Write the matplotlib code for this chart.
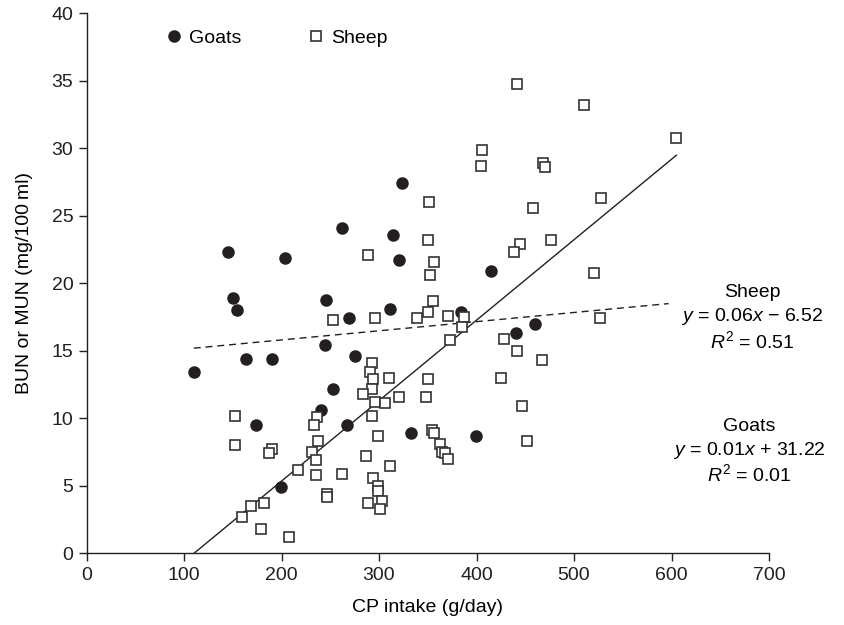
import numpy as np
import matplotlib
matplotlib.use("Agg")
import matplotlib.pyplot as plt

plt.rcParams['font.family'] = ['Liberation Sans', 'DejaVu Sans']
plt.rcParams['mathtext.fontset'] = 'custom'
plt.rcParams['mathtext.rm'] = 'Liberation Sans'
plt.rcParams['mathtext.it'] = 'Liberation Sans:italic'

# goats (filled circles)
goat_x = [324, 262, 314, 145, 204, 320, 150, 154, 246, 311, 269, 384,
          245, 164, 190, 275, 110, 253, 240, 174, 267, 333, 399, 199,
          415, 460, 440]
goat_y = [27.4, 24.1, 23.6, 22.3, 21.9, 21.7, 18.9, 18.0, 18.8, 18.1, 17.4, 17.9,
          15.4, 14.4, 14.4, 14.6, 13.4, 12.2, 10.6, 9.5, 9.5, 8.9, 8.7, 4.9,
          20.9, 17.0, 16.3]

# sheep (open squares)
sheep_x = [351, 350, 289, 356, 352, 355, 350, 339, 253, 296, 371, 387,
           385, 373, 293, 291, 294, 310, 350, 293, 284, 320, 348, 296,
           306, 293, 152, 236, 233, 354, 356, 363, 365, 368, 371, 299,
           237, 152, 190, 187, 231, 287, 235, 311, 217, 262, 235, 294,
           299, 299, 303, 289, 301, 247, 247, 182, 169, 159, 179, 208,
           441, 510, 605, 406, 405, 468, 470, 528, 458, 476, 445, 438,
           520, 527, 428, 441, 467, 425, 447, 452]
sheep_y = [26.0, 23.2, 22.1, 21.6, 20.6, 18.7, 17.9, 17.4, 17.3, 17.4, 17.6, 17.5,
           16.8, 15.8, 14.1, 13.4, 12.9, 13.0, 12.9, 12.2, 11.8, 11.6, 11.6, 11.2,
           11.1, 10.2, 10.2, 10.1, 9.5, 9.1, 8.9, 8.1, 7.5, 7.4, 7.0, 8.7,
           8.3, 8.0, 7.7, 7.4, 7.5, 7.2, 6.9, 6.5, 6.2, 5.9, 5.8, 5.6,
           5.0, 4.6, 3.9, 3.7, 3.3, 4.4, 4.2, 3.7, 3.5, 2.7, 1.8, 1.2,
           34.8, 33.2, 30.8, 29.9, 28.7, 28.9, 28.6, 26.3, 25.6, 23.2, 22.9, 22.3,
           20.8, 17.4, 15.9, 15.0, 14.3, 13.0, 10.9, 8.3]

# fitted lines as drawn
solid_slope, solid_icpt, solid_range = 0.0596, -6.57, (110, 605)
dash_slope, dash_icpt, dash_range = 0.00678, 14.45, (110, 597)

xticks = [0, 100, 200, 300, 400, 500, 600, 700]
yticks = [0, 5, 10, 15, 20, 25, 30, 35, 40]

fig = plt.figure(figsize=(8.45, 6.25), dpi=100)
ax = fig.add_axes([0.1024, 0.1147, 0.8077, 0.864])

ax.plot(goat_x, goat_y, 'o', color='#231f20', markersize=8, linestyle='none', label='Goats', zorder=3)
ax.plot(sheep_x, sheep_y, 's', markerfacecolor='white', markeredgecolor='#333333',
        markeredgewidth=1.2, markersize=7.5, linestyle='none', label='Sheep', zorder=3)

sx = np.array(solid_range)
ax.plot(sx, solid_slope * sx + solid_icpt, color='#231f20', lw=1.0, zorder=2)
dx = np.array(dash_range)
ax.plot(dx, dash_slope * dx + dash_icpt, color='#231f20', lw=1.0, ls=(0, (5, 3.5)), zorder=2)

ax.text(683, 19.3, 'Sheep', ha='center', va='center', fontsize=14)
ax.text(683, 17.55, '$y$ = 0.06$x$ \u2212 6.52', ha='center', va='center', fontsize=14)
ax.text(683, 15.7, '$R^{\\mathrm{2}}$ = 0.51', ha='center', va='center', fontsize=14)
ax.text(680, 9.4, 'Goats', ha='center', va='center', fontsize=14)
ax.text(680, 7.6, '$y$ = 0.01$x$ + 31.22', ha='center', va='center', fontsize=14)
ax.text(680, 5.9, '$R^{\\mathrm{2}}$ = 0.01', ha='center', va='center', fontsize=14)

ax.set_xlim(0, 700)
ax.set_ylim(0, 40)
ax.set_xticks(xticks)
ax.set_yticks(yticks)
ax.tick_params(direction='out', length=6, width=1, labelsize=14, colors='#231f20')
ax.spines['top'].set_visible(False)
ax.spines['right'].set_visible(False)
for s in ['left', 'bottom']:
    ax.spines[s].set_linewidth(1)
    ax.spines[s].set_color('#231f20')

ax.set_xlabel('CP intake (g/day)', fontsize=14, labelpad=11)
ax.set_ylabel('BUN or MUN (mg/100\u2009ml)', fontsize=14, labelpad=13)

ax.legend(loc='upper left', bbox_to_anchor=(0.088, 1.003), ncol=2, frameon=False,
          fontsize=14, handlelength=1.0, handletextpad=0.3, columnspacing=3.3)

fig.savefig('out.png', dpi=100)
